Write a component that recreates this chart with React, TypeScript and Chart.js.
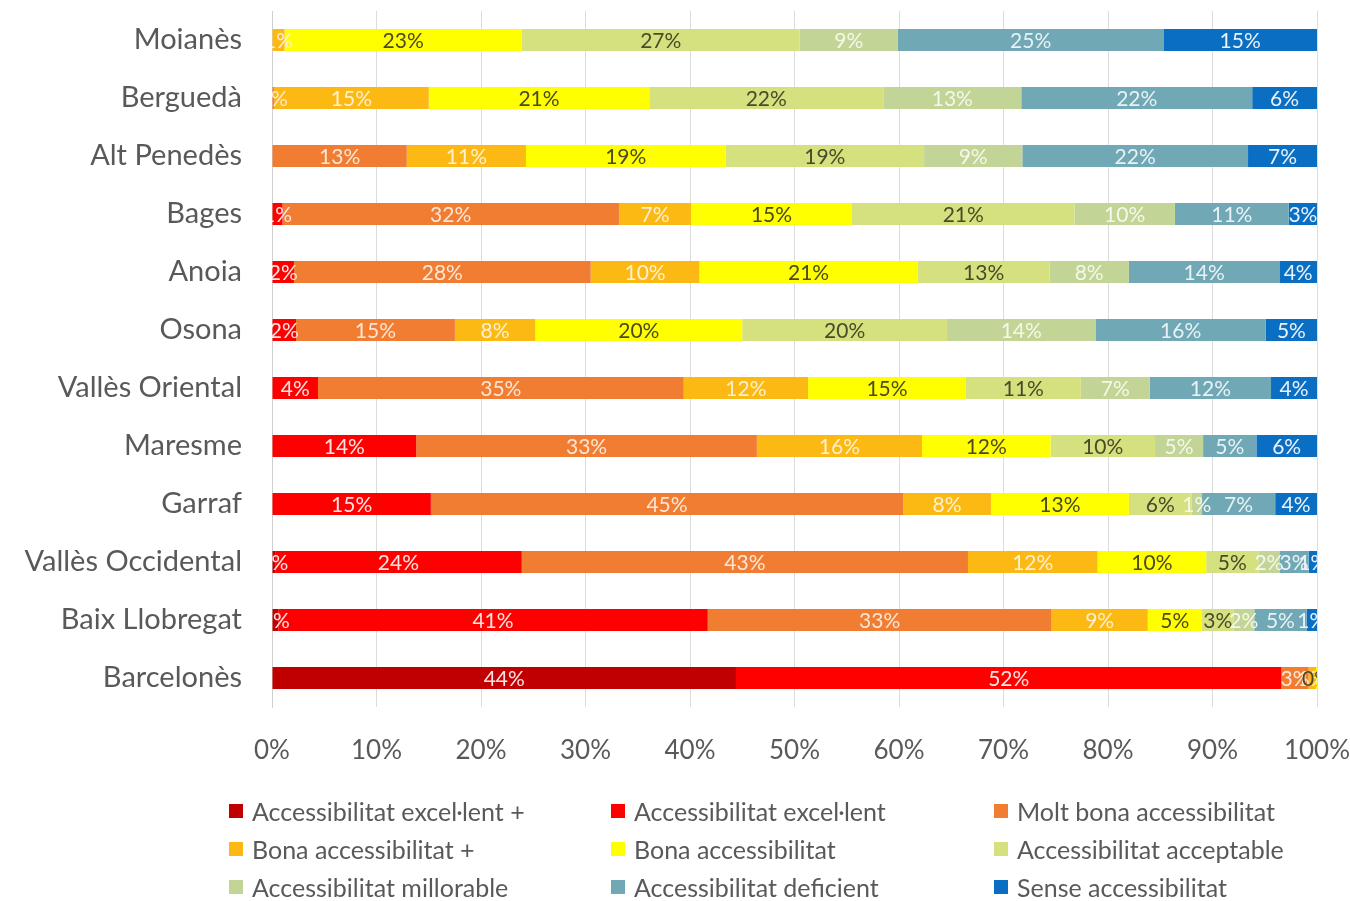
import React, { useEffect, useRef } from "react";
import { Chart, registerables } from "chart.js";

Chart.register(...registerables);

const categories = [
  "Moianès",
  "Berguedà",
  "Alt Penedès",
  "Bages",
  "Anoia",
  "Osona",
  "Vallès Oriental",
  "Maresme",
  "Garraf",
  "Vallès Occidental",
  "Baix Llobregat",
  "Barcelonès",
];

const seriesNames = [
  "Accessibilitat excel·lent +",
  "Accessibilitat excel·lent",
  "Molt bona accessibilitat",
  "Bona accessibilitat +",
  "Bona accessibilitat",
  "Accessibilitat acceptable",
  "Accessibilitat millorable",
  "Accessibilitat deficient",
  "Sense accessibilitat",
];

const seriesColors = [
  "#C00000",
  "#FF0000",
  "#F07D32",
  "#FDB913",
  "#FFFF00",
  "#D5E07E",
  "#C2D496",
  "#70A8B6",
  "#0A6FC2",
];

const labelColors = [
  "#FBE3E3",
  "#FCE4E4",
  "#FDE6D6",
  "#FEF0D0",
  "#4A4A1E",
  "#4A4A2A",
  "#F4F8EA",
  "#E8F2F5",
  "#EAF2FB",
];

// values per series, in category order (percent)
const excelPlus = [0, 0, 0, 0, 0, 0, 0, 0, 0, 0.3, 0.6, 44.4];
const excel = [0, 0, 0, 1.0, 2.1, 2.3, 4.4, 13.8, 15.2, 23.6, 41.1, 52.2];
const moltBona = [0, 0.2, 12.9, 32.2, 28.4, 15.2, 35.0, 32.6, 45.2, 42.7, 32.9, 2.6];
const bonaPlus = [1.2, 14.8, 11.4, 6.9, 10.4, 7.7, 11.9, 15.8, 8.4, 12.4, 9.2, 0.7];
const bona = [22.7, 21.1, 19.1, 15.4, 20.9, 19.8, 15.1, 12.3, 13.2, 10.4, 5.2, 0.1];
const acceptable = [26.6, 22.4, 19.0, 21.3, 12.6, 19.6, 11.0, 10.0, 6.0, 5.0, 3.0, 0];
const millorable = [9.4, 13.2, 9.4, 9.6, 7.6, 14.2, 6.6, 4.6, 1.0, 2.0, 2.0, 0];
const deficient = [25.4, 22.1, 21.6, 10.9, 14.4, 16.3, 11.6, 5.1, 7.0, 2.8, 5.0, 0];
const sense = [14.7, 6.2, 6.6, 2.7, 3.6, 4.9, 4.4, 5.8, 4.0, 0.8, 1.0, 0];

const seriesValues = [
  excelPlus,
  excel,
  moltBona,
  bonaPlus,
  bona,
  acceptable,
  millorable,
  deficient,
  sense,
];

const xTicks = [0, 10, 20, 30, 40, 50, 60, 70, 80, 90, 100];

const FONT = "Lato, 'Noto Sans', sans-serif";

const barLabelPlugin = {
  id: "barLabels",
  afterDatasetsDraw(chart: any) {
    const { ctx, chartArea } = chart;
    ctx.save();
    ctx.beginPath();
    ctx.rect(chartArea.left, chartArea.top, chartArea.right - chartArea.left, chartArea.bottom - chartArea.top);
    ctx.clip();
    ctx.font = `21px ${FONT}`;
    ctx.textAlign = "center";
    ctx.textBaseline = "middle";
    chart.data.datasets.forEach((ds: any, di: number) => {
      const meta = chart.getDatasetMeta(di);
      meta.data.forEach((bar: any, i: number) => {
        const v = ds.data[i];
        if (!(v > 0)) return;
        const props = bar.getProps(["x", "y", "base"], true);
        const cx = (props.x + props.base) / 2;
        ctx.fillStyle = labelColors[di];
        ctx.fillText(`${Math.round(v)}%`, cx, props.y + 1);
      });
    });
    ctx.restore();
  },
};

const zeroPadding = (scale: any) => {
  scale.paddingLeft = 0;
  scale.paddingRight = 0;
  scale.paddingTop = 0;
  scale.paddingBottom = 0;
};

export default function App() {
  const canvasRef = useRef<HTMLCanvasElement | null>(null);

  useEffect(() => {
    if (!canvasRef.current) return;
    const chart = new Chart(canvasRef.current, {
      type: "bar",
      data: {
        labels: categories,
        datasets: seriesNames.map((name, i) => ({
          label: name,
          data: seriesValues[i],
          backgroundColor: seriesColors[i],
          borderWidth: 0,
          barPercentage: 0.76,
          categoryPercentage: 0.5,
        })),
      },
      options: {
        indexAxis: "y",
        animation: false,
        responsive: true,
        maintainAspectRatio: false,
        layout: { padding: { left: 0, right: 33, top: 11, bottom: 124 } },
        plugins: {
          legend: { display: false },
          tooltip: { enabled: false },
        },
        scales: {
          x: {
            stacked: true,
            min: 0,
            max: 100,
            afterBuildTicks: (scale: any) => {
              scale.ticks = xTicks.map((v) => ({ value: v }));
            },
            afterFit: (scale: any) => {
              scale.height = 70;
              zeroPadding(scale);
            },
            ticks: {
              callback: (v: any) => `${v}%`,
              color: "#595959",
              font: { size: 26, family: FONT },
              padding: 28,
              maxRotation: 0,
              autoSkip: false,
            },
            grid: { color: "#DCDCDC", drawTicks: false, lineWidth: 1 },
            border: { display: false },
          },
          y: {
            stacked: true,
            afterFit: (scale: any) => {
              scale.width = 272;
              zeroPadding(scale);
            },
            ticks: {
              color: "#595959",
              font: { size: 29, family: FONT },
              padding: 30,
              autoSkip: false,
            },
            grid: { display: false, drawTicks: false },
            border: { display: true, color: "#D0D0D0" },
          },
        },
      },
      plugins: [barLabelPlugin],
    });
    return () => chart.destroy();
  }, []);

  const colLeft = [229, 611, 994];
  const rowTop = [811, 849, 887];

  return (
    <div style={{ position: "absolute", left: 0, top: 0, width: 1350, height: 901, background: "#fff", overflow: "hidden" }}>
      <canvas ref={canvasRef} />
      {seriesNames.map((name, i) => (
        <div
          key={name}
          style={{
            position: "absolute",
            left: colLeft[i % 3],
            top: rowTop[Math.floor(i / 3)] - 16,
            height: 32,
            display: "flex",
            alignItems: "center",
            fontFamily: FONT,
            fontSize: 25,
            color: "#595959",
            whiteSpace: "nowrap",
          }}
        >
          <span style={{ display: "inline-block", width: 14, height: 14, background: seriesColors[i], marginRight: 9 }} />
          {name}
        </div>
      ))}
    </div>
  );
}
